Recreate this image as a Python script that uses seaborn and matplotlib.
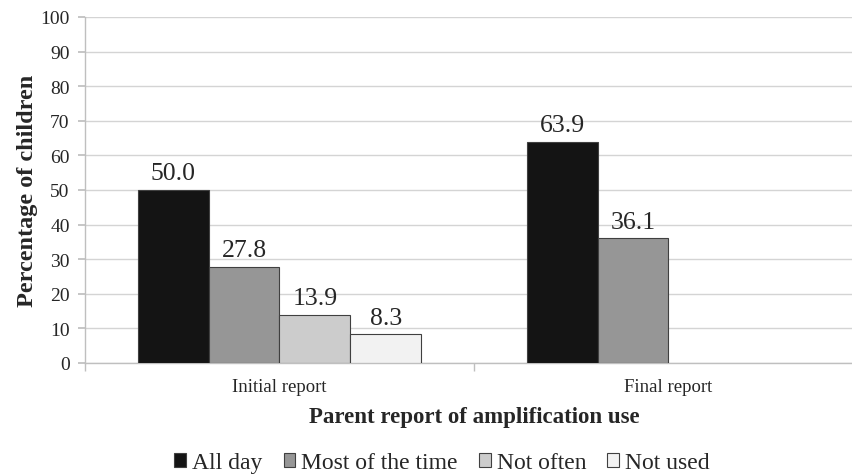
import matplotlib
matplotlib.use("Agg")
import matplotlib.pyplot as plt
from matplotlib.patches import Patch
import seaborn as sns
import pandas as pd
import numpy as np

categories = ["Initial report", "Final report"]
series = ["All day", "Most of the time", "Not often", "Not used"]
initial_vals = [50.0, 27.8, 13.9, 8.3]
final_vals = [63.9, 36.1, np.nan, np.nan]
colors = ["#141414", "#969696", "#cccccc", "#f2f2f2"]

rows = []
for s, a, b in zip(series, initial_vals, final_vals):
    rows.append({"Report": categories[0], "Use": s, "Pct": a})
    rows.append({"Report": categories[1], "Use": s, "Pct": b})
df = pd.DataFrame(rows)

sns.set_theme(style="white")
plt.rcParams["font.family"] = ["Liberation Serif", "DejaVu Serif"]

W, H = 853, 477
fig = plt.figure(figsize=(W / 100, H / 100), dpi=100)
left, right, top, bottom = 85, 863, 18, 364
ax = fig.add_axes([left / W, 1 - bottom / H, (right - left) / W, (bottom - top) / H])

sns.barplot(data=df, x="Report", y="Pct", hue="Use", order=categories,
            hue_order=series, palette=colors, width=0.73, ax=ax,
            edgecolor="#404040", linewidth=0.8, legend=False, zorder=3)

ax.set_xlim(-0.5, 1.5)
ax.set_ylim(0, 100)
ax.set_yticks(range(0, 101, 10))
ax.yaxis.grid(True, color="#d4d4d4", linewidth=1.0, zorder=0)
ax.set_axisbelow(True)
for sp in ["top", "right"]:
    ax.spines[sp].set_visible(False)
ax.spines["left"].set_color("#bfbfbf")
ax.spines["bottom"].set_color("#bfbfbf")
ax.spines["left"].set_linewidth(1.0)
ax.spines["bottom"].set_linewidth(1.0)

ax.tick_params(axis="y", which="both", left=True, length=5, color="#bfbfbf",
               labelsize=14, pad=6)
ax.set_xticks([0, 1])
ax.set_xticklabels(categories, fontsize=13.5)
ax.tick_params(axis="x", which="major", bottom=False, pad=5)
ax.set_xticks([-0.5, 0.5, 1.5], minor=True)
ax.tick_params(axis="x", which="minor", bottom=True, length=6, color="#bfbfbf")

for cont in ax.containers:
    labels = ["" if np.isnan(b.get_height()) else f"{b.get_height():.1f}" for b in cont]
    ax.bar_label(cont, labels=labels, padding=4, fontsize=18.5)

ax.set_ylabel("Percentage of children", fontsize=17.5, fontweight="bold", labelpad=2)
ax.set_xlabel("Parent report of amplification use", fontsize=16.5, fontweight="bold", labelpad=8)

handles = [Patch(facecolor=c, edgecolor="#404040", linewidth=0.8) for c in colors]
fig.legend(handles, series, loc="center", bbox_to_anchor=(442 / W, 1 - 464 / H),
           ncol=4, frameon=False, fontsize=17, handlelength=0.5, handleheight=0.5,
           handletextpad=0.25, columnspacing=0.9)

fig.savefig("out.png", dpi=100)
